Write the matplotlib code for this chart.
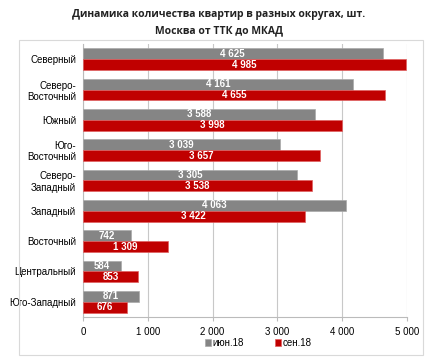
import matplotlib
matplotlib.use('Agg')
import matplotlib.pyplot as plt
import numpy as np
from matplotlib.patches import Rectangle

# Data
districts = ['Северный', 'Северо-\nВосточный', 'Южный', 'Юго-\nВосточный', 'Северо-\nЗападный',
             'Западный', 'Восточный', 'Центральный', 'Юго-Западный']
jun18 = [4625, 4161, 3588, 3039, 3305, 4063, 742, 584, 871]
sep18 = [4985, 4655, 3998, 3657, 3538, 3422, 1309, 853, 676]
series_names = ['июн.18', 'сен.18']
xticks = [0, 1000, 2000, 3000, 4000, 5000]

gray = '#858585'
red = '#C00000'

plt.rcParams['font.family'] = ['Liberation Sans', 'DejaVu Sans']

fig = plt.figure(figsize=(4.38, 3.61), dpi=100)
ax = fig.add_axes([0.1895, 0.122, 0.7395, 0.756])

# Outer chart frame
fig.patches.append(Rectangle((19 / 438, 1 - 355 / 361), (423 - 19) / 438, (355 - 40) / 361,
                             transform=fig.transFigure, fill=False, edgecolor='#d9d9d9', lw=0.8))

y = np.arange(len(districts))
h = 0.36
b1 = ax.barh(y - h / 2, jun18, height=h, color=gray, edgecolor='#aaaaaa', lw=0.5, label=series_names[0], zorder=3)
b2 = ax.barh(y + h / 2, sep18, height=h, color=red, edgecolor='#e06060', lw=0.5, label=series_names[1], zorder=3)

def fmt(v):
    return f'{v:,}'.replace(',', ' ')

for bars, vals in [(b1, jun18), (b2, sep18)]:
    for bar, v in zip(bars, vals):
        ax.text(v / 2, bar.get_y() + bar.get_height() / 2, fmt(v), ha='center', va='center',
                color='white', fontsize=7, fontweight='bold', zorder=4)

ax.set_ylim(len(districts) - 0.5, -0.5)
ax.set_xlim(0, 5000)
ax.set_yticks(y)
ax.set_yticklabels(districts, fontsize=7, linespacing=1.15)
ax.set_xticks(xticks)
ax.set_xticklabels([fmt(t) for t in xticks], fontsize=7)
ax.tick_params(axis='y', length=0, pad=5)
ax.tick_params(axis='x', length=3, color='#bbbbbb', pad=4)
ax.xaxis.grid(True, color='#c8c8c8', lw=0.8, zorder=0)
for s in ['top', 'right']:
    ax.spines[s].set_visible(False)
ax.spines['left'].set_color('#bbbbbb')
ax.spines['bottom'].set_color('#bbbbbb')

fig.text(0.5, 0.975, 'Динамика количества квартир в разных округах, шт.\nМосква от ТТК до МКАД',
         ha='center', va='top', fontsize=7.5, fontweight='bold', linespacing=1.6, color='#222222',
         family=['Open Sans', 'DejaVu Sans'])

fig.legend(handles=[b1, b2], labels=series_names, loc='center', bbox_to_anchor=(0.59, 0.05),
           ncol=2, frameon=False, fontsize=7, handlelength=0.6, handleheight=0.6,
           handletextpad=0.2, columnspacing=3.2)

fig.savefig('out.png', dpi=100)
